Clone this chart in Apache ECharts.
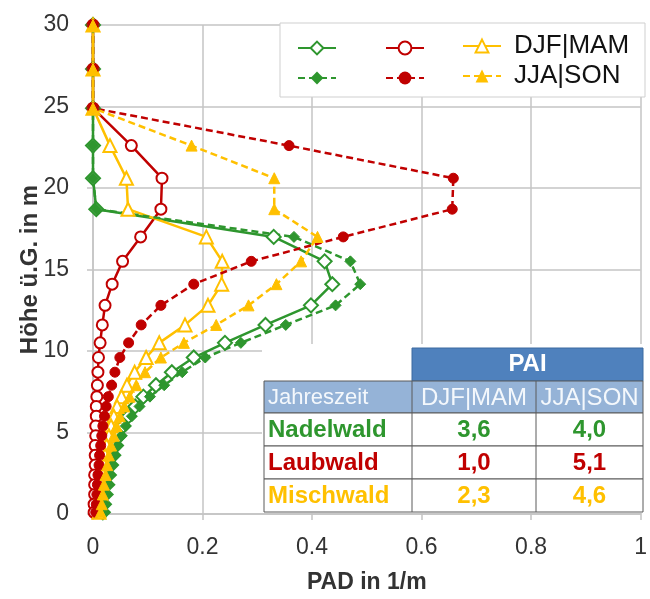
<!DOCTYPE html>
<html>
<head>
<meta charset="utf-8">
<script src="https://cdn.jsdelivr.net/npm/echarts@6/dist/echarts.min.js"></script>
<style>
html,body{margin:0;padding:0;background:#fff;}
#c{width:650px;height:599px;}
</style>
</head>
<body>
<div id="c"></div>
<script>
// heights of model levels (m above ground)
const heights = [30, 27.3, 24.9, 22.6, 20.6, 18.7, 17.0, 15.5, 14.1, 12.8, 11.6, 10.5, 9.6, 8.7, 7.9, 7.2, 6.6, 6.0, 5.4, 4.8, 4.2, 3.6, 3.0, 2.4, 1.8, 1.2, 0.6, 0.1];
// PAD values (1/m)
const nadelDJF = [0, 0, 0, 0, 0, 0.006, 0.33, 0.423, 0.437, 0.398, 0.315, 0.241, 0.184, 0.144, 0.115, 0.092, 0.077, 0.065, 0.055, 0.048, 0.042, 0.037, 0.033, 0.029, 0.026, 0.023, 0.02, 0.018];
const nadelJJA = [0, 0, 0, 0, 0, 0.006, 0.367, 0.47, 0.488, 0.443, 0.352, 0.27, 0.205, 0.163, 0.13, 0.104, 0.085, 0.071, 0.06, 0.052, 0.045, 0.04, 0.035, 0.031, 0.028, 0.025, 0.022, 0.02];
const laubDJF = [0, 0, 0, 0.07, 0.126, 0.124, 0.087, 0.054, 0.035, 0.022, 0.017, 0.013, 0.01, 0.009, 0.008, 0.007, 0.006, 0.006, 0.005, 0.005, 0.004, 0.004, 0.004, 0.003, 0.003, 0.003, 0.002, 0.002];
const laubJJA = [0, 0, 0, 0.358, 0.658, 0.656, 0.457, 0.289, 0.184, 0.124, 0.088, 0.065, 0.049, 0.04, 0.034, 0.028, 0.024, 0.021, 0.018, 0.016, 0.014, 0.012, 0.011, 0.009, 0.008, 0.007, 0.006, 0.005];
const mischDJF = [0, 0, 0, 0.031, 0.061, 0.064, 0.207, 0.236, 0.235, 0.21, 0.168, 0.121, 0.097, 0.076, 0.062, 0.052, 0.044, 0.038, 0.033, 0.029, 0.025, 0.022, 0.02, 0.018, 0.016, 0.014, 0.012, 0.011];
const mischJJA = [0, 0, 0, 0.18, 0.331, 0.331, 0.41, 0.38, 0.335, 0.284, 0.225, 0.166, 0.124, 0.095, 0.079, 0.067, 0.057, 0.049, 0.043, 0.038, 0.033, 0.029, 0.026, 0.023, 0.02, 0.018, 0.016, 0.014];

// PAI table
const tableHeader = 'PAI';
const tableColLabels = ['Jahreszeit', 'DJF|MAM', 'JJA|SON'];
const forestTypes = ['Nadelwald', 'Laubwald', 'Mischwald'];
const paiDJF = ['3,6', '1,0', '2,3'];
const paiJJA = ['4,0', '5,1', '4,6'];

const GREEN = '#2e962e', RED = '#c00000', YELLOW = '#ffc000';
const forestColors = [GREEN, RED, YELLOW];
const FONT = 'Liberation Sans, Arial, sans-serif';

function pts(vals) { return heights.map((h, i) => [vals[i], h]); }

function mk(name, vals, color, symbol, size, dashed) {
  return {
    name: name, type: 'line', data: pts(vals),
    symbol: symbol, symbolSize: size, showSymbol: true,
    lineStyle: { color: color, width: 2.5, type: dashed ? [7, 4] : 'solid' },
    itemStyle: { color: color, borderColor: color },
    emphasis: { disabled: true },
    z: 3
  };
}

const series = [
  mk('Nadelwald DJF|MAM', nadelDJF, GREEN, 'emptyDiamond', 14, false),
  mk('Laubwald DJF|MAM', laubDJF, RED, 'emptyCircle', 11, false),
  mk('Mischwald DJF|MAM', mischDJF, YELLOW, 'emptyTriangle', 13, false),
  mk('Nadelwald JJA|SON', nadelJJA, GREEN, 'diamond', 11, true),
  mk('Laubwald JJA|SON', laubJJA, RED, 'circle', 10, true),
  mk('Mischwald JJA|SON', mischJJA, YELLOW, 'triangle', 11, true)
];

// legends, one per item
const legendCols = [297, 385, 462];
const legendRows = [48, 78];
const legends = [];
series.forEach((s, i) => {
  const col = i % 3, row = Math.floor(i / 3);
  const hasText = col === 2;
  legends.push({
    data: [s.name], left: legendCols[col], top: legendRows[row] - (hasText ? 15 : 8),
    itemWidth: 38, itemHeight: 16, padding: 0, itemGap: 0, z: 10,
    selectedMode: false,
    formatter: n => hasText ? n.split(' ')[1] : '',
    textStyle: { fontFamily: FONT, fontSize: 26, color: '#111', padding: [0, 0, 0, 8] }
  });
});

// table graphics
const T = { x0: 264, x1: 412, x2: 536, x3: 643, yH: 348, y1: 381, y2: 413, rowH: 33 };
const border = '#5a5a5a';
const g = [];
// legend box
g.push({ type: 'rect', shape: { x: 280, y: 23, width: 365, height: 74 }, style: { fill: '#fff', stroke: '#cfcfcf', lineWidth: 1 }, z: 5 });
// white background of table
g.push({ type: 'rect', shape: { x: 262, y: 344, width: 386, height: 169 }, style: { fill: '#fff' }, z: 5 });
// header PAI
g.push({ type: 'rect', shape: { x: T.x1, y: T.yH, width: T.x3 - T.x1, height: T.y1 - T.yH }, style: { fill: '#4f81bd', stroke: '#3c6aa0', lineWidth: 1 }, z: 6 });
g.push({ type: 'text', x: (T.x1 + T.x3) / 2, y: (T.yH + T.y1) / 2, style: { text: tableHeader, fill: '#fff', font: 'bold 24px ' + FONT, textAlign: 'center', textVerticalAlign: 'middle' }, z: 7 });
// column label row
g.push({ type: 'rect', shape: { x: T.x0, y: T.y1, width: T.x3 - T.x0, height: T.y2 - T.y1 }, style: { fill: '#95b3d7', stroke: border, lineWidth: 1 }, z: 6 });
const colCenters = [T.x0 + 4, (T.x1 + T.x2) / 2, (T.x2 + T.x3) / 2];
tableColLabels.forEach((t, i) => {
  g.push({ type: 'text', x: colCenters[i], y: (T.y1 + T.y2) / 2 + 1, style: { text: t, fill: '#f4f8fc', font: (i === 0 ? '22px ' : '24px ') + FONT, textAlign: i === 0 ? 'left' : 'center', textVerticalAlign: 'middle' }, z: 7 });
});
// data rows
forestTypes.forEach((f, r) => {
  const y = T.y2 + r * T.rowH;
  g.push({ type: 'rect', shape: { x: T.x0, y: y, width: T.x3 - T.x0, height: T.rowH }, style: { fill: '#fff', stroke: border, lineWidth: 1 }, z: 6 });
  const vals = [f, paiDJF[r], paiJJA[r]];
  vals.forEach((t, i) => {
    g.push({ type: 'text', x: colCenters[i], y: y + T.rowH / 2 + 1, style: { text: t, fill: forestColors[r], font: 'bold 24px ' + FONT, textAlign: i === 0 ? 'left' : 'center', textVerticalAlign: 'middle' }, z: 7 });
  });
});
// column dividers
[T.x1, T.x2].forEach(x => {
  g.push({ type: 'line', shape: { x1: x, y1: T.y1, x2: x, y2: T.y2 + 3 * T.rowH }, style: { stroke: border, lineWidth: 1 }, z: 8 });
});

const gridColor = '#c4c4c4';
const chart = echarts.init(document.getElementById('c'), null, { renderer: 'canvas' });
chart.setOption({
  animation: false,
  backgroundColor: '#fff',
  grid: { left: 93, top: 25, width: 555, height: 490, containLabel: false },
  xAxis: {
    type: 'value', min: 0, max: 1, interval: 0.2,
    name: 'PAD in 1/m', nameLocation: 'middle', nameGap: 57, nameMoveOverlap: false,
    nameTextStyle: { fontFamily: FONT, fontSize: 23, fontWeight: 'bold', color: '#333' },
    axisLine: { show: true, lineStyle: { color: gridColor, width: 1.5 } },
    axisTick: { show: true, length: 6, lineStyle: { color: gridColor, width: 1.5 } },
    axisLabel: { fontFamily: FONT, fontSize: 23, color: '#333', margin: 22 },
    splitLine: { show: true, lineStyle: { color: gridColor, width: 1.5 } }
  },
  yAxis: {
    type: 'value', min: 0, max: 30, interval: 5,
    name: 'Höhe ü.G. in m', nameLocation: 'middle', nameGap: 51, nameRotate: 90, nameMoveOverlap: false,
    nameTextStyle: { fontFamily: FONT, fontSize: 24, fontWeight: 'bold', color: '#333' },
    axisLine: { show: true, lineStyle: { color: gridColor, width: 1.5 } },
    axisTick: { show: true, length: 6, lineStyle: { color: gridColor, width: 1.5 } },
    axisLabel: { fontFamily: FONT, fontSize: 23, color: '#333', margin: 24 },
    splitLine: { show: true, lineStyle: { color: gridColor, width: 1.5 } }
  },
  legend: legends,
  graphic: g,
  series: series
});
</script>
</body>
</html>
